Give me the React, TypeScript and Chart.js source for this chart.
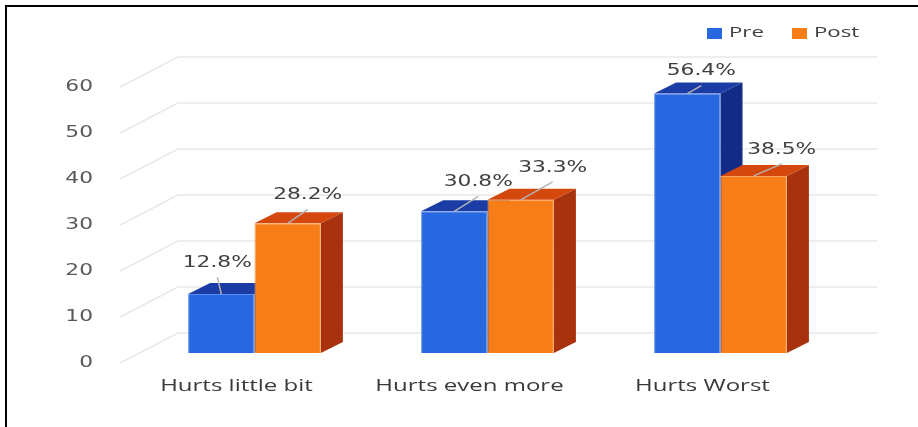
import React, { useEffect, useRef } from "react";
import { Chart, registerables } from "chart.js";
Chart.register(...registerables);

// ---- data ----
const categories = ["Hurts little bit", "Hurts even more", "Hurts Worst"];
const seriesNames = ["Pre", "Post"];
const preValues = [12.8, 30.8, 56.4];
const postValues = [28.2, 33.3, 38.5];
const yTicks = [0, 10, 20, 30, 40, 50, 60];

// ---- style ----
const W = 918;
const H = 427;
const BAR_SHIFT = { x: 18, y: -10 };
const BAR_DEPTH = { x: 22, y: -11 };
const WALL = { x: 58, y: -30 };
const FRONT = ["#2767E0", "#F67D17"];
const TOP = ["#1A3CA4", "#D4470D"];
const SIDE = ["#112B86", "#A8320D"];
const EDGE = ["#5E90F0", "#F9A45A"];
const LABEL_NUDGE = [
  [[-4, -31], [24, -29], [14, -22]],
  [[20, -28], [32, -32], [28, -26]],
];
const NUM_FONT = "15px 'DejaVu Sans'";
const NUM_SX = 1.45;
const CAT_FONT = "500 16px 'Open Sans'";
const CAT_SX = 1.5;
const LEG_FONT = "500 15px 'Open Sans'";
const LEG_SX = 1.48;

function sText(ctx: CanvasRenderingContext2D, text: string, x: number, y: number, font: string, sx: number, color: string, align: CanvasTextAlign) {
  ctx.save();
  ctx.translate(x, y);
  ctx.scale(sx, 1);
  ctx.font = font;
  ctx.fillStyle = color;
  ctx.textAlign = align;
  ctx.textBaseline = "middle";
  ctx.fillText(text, 0, 0);
  ctx.restore();
}

const threeD = {
  id: "threeD",
  beforeDraw(chart: any) {
    const ctx = chart.ctx;
    ctx.save();
    ctx.fillStyle = "#fff";
    ctx.fillRect(0, 0, W, H);
    ctx.fillStyle = "#000";
    ctx.fillRect(5, 5, W, 2);
    ctx.fillRect(5, 5, 2, H);
    ctx.restore();
  },
  beforeDatasetsDraw(chart: any) {
    const { ctx, chartArea: a, scales } = chart;
    const ys = scales.y;
    const xs = scales.x;
    ctx.save();
    ctx.strokeStyle = "#e9e9e9";
    ctx.lineWidth = 1.5;
    yTicks.forEach((v) => {
      const py = ys.getPixelForValue(v);
      ctx.beginPath();
      ctx.moveTo(a.left, py);
      ctx.lineTo(a.left + WALL.x, py + WALL.y);
      ctx.lineTo(a.right + WALL.x, py + WALL.y);
      ctx.stroke();
    });
    ctx.restore();
    yTicks.forEach((v) => sText(ctx, String(v), a.left - 27, ys.getPixelForValue(v), NUM_FONT, NUM_SX, "#595959", "right"));
    categories.forEach((c, i) => sText(ctx, c, xs.getPixelForValue(i), a.bottom + 23, CAT_FONT, CAT_SX, "#3a3a3a", "center"));
    // legend
    const lx = [707, 792];
    chart.data.datasets.forEach((ds: any, i: number) => {
      ctx.fillStyle = FRONT[i];
      ctx.fillRect(lx[i], 28, 15, 11);
      sText(ctx, ds.label, lx[i] + 22, 33, LEG_FONT, LEG_SX, "#404040", "left");
    });
  },
  // default draw order would put the left series on top; draw them ourselves instead
  beforeDatasetDraw() {
    return false;
  },
  afterDatasetsDraw(chart: any) {
    const ctx = chart.ctx;
    // bars, drawn left series first so the right one sits in front
    chart.data.datasets.forEach((ds: any, d: number) => {
      const meta = chart.getDatasetMeta(d);
      ctx.save();
      ctx.translate(BAR_SHIFT.x, BAR_SHIFT.y);
      meta.data.forEach((el: any) => {
        const l = el.x - el.width / 2;
        const r = el.x + el.width / 2;
        const t = el.y;
        const b = el.base;
        ctx.fillStyle = SIDE[d];
        ctx.beginPath();
        ctx.moveTo(r, t);
        ctx.lineTo(r + BAR_DEPTH.x, t + BAR_DEPTH.y);
        ctx.lineTo(r + BAR_DEPTH.x, b + BAR_DEPTH.y);
        ctx.lineTo(r, b);
        ctx.closePath();
        ctx.fill();
        ctx.fillStyle = TOP[d];
        ctx.beginPath();
        ctx.moveTo(l, t);
        ctx.lineTo(l + BAR_DEPTH.x, t + BAR_DEPTH.y);
        ctx.lineTo(r + BAR_DEPTH.x, t + BAR_DEPTH.y);
        ctx.lineTo(r, t);
        ctx.closePath();
        ctx.fill();
        el.draw(ctx);
      });
      ctx.restore();
    });
    // value labels with leader lines
    chart.data.datasets.forEach((ds: any, d: number) => {
      const meta = chart.getDatasetMeta(d);
      meta.data.forEach((el: any, i: number) => {
        const bx = el.x + BAR_SHIFT.x;
        const by = el.y + BAR_SHIFT.y;
        const [nx, ny] = LABEL_NUDGE[d][i];
        ctx.save();
        ctx.strokeStyle = "#b4b4b4";
        ctx.lineWidth = 1.5;
        ctx.beginPath();
        ctx.moveTo(bx + nx, by + ny + 14);
        ctx.lineTo(bx, by);
        ctx.stroke();
        ctx.restore();
        sText(ctx, ds.data[i].toFixed(1) + "%", bx + nx, by + ny, NUM_FONT, NUM_SX, "#404040", "center");
      });
    });
  },
};

export default function App() {
  const ref = useRef<HTMLCanvasElement>(null);
  useEffect(() => {
    if (!ref.current) return;
    const chart = new Chart(ref.current, {
      type: "bar",
      data: {
        labels: categories,
        datasets: [
          { label: seriesNames[0], data: preValues, backgroundColor: FRONT[0], borderColor: EDGE[0], borderWidth: 1 },
          { label: seriesNames[1], data: postValues, backgroundColor: FRONT[1], borderColor: EDGE[1], borderWidth: 1 },
        ],
      },
      options: {
        responsive: false,
        animation: false,
        devicePixelRatio: 1,
        layout: { padding: { left: 120, right: 99, top: 87, bottom: 64 } },
        plugins: { legend: { display: false }, tooltip: { enabled: false }, title: { display: false } },
        scales: {
          x: { display: false, offset: true },
          y: { display: false, min: 0, max: 60 },
        },
        datasets: { bar: { categoryPercentage: 0.57, barPercentage: 1 } },
      } as any,
      plugins: [threeD],
    });
    return () => chart.destroy();
  }, []);
  return (
    <div style={{ position: "fixed", left: 0, top: 0, width: W, height: H, background: "#fff" }}>
      <canvas ref={ref} width={W} height={H} style={{ display: "block" }} />
    </div>
  );
}
